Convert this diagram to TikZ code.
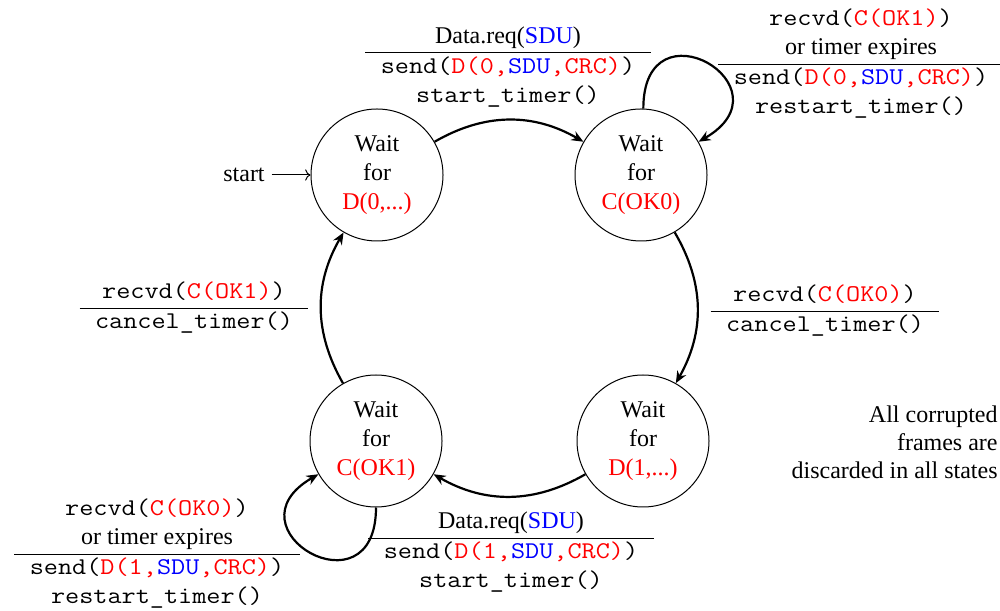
\documentclass[tikz,border=0pt]{standalone}
\usepackage{fontspec}
\setmainfont{Liberation Serif}
\setmonofont{Latin Modern Mono}[FakeStretch=1.143]
\usetikzlibrary{arrows.meta}
\newcommand\myred[1]{\textcolor{red}{#1}}
\newcommand\myblue[1]{\textcolor{blue}{#1}}
\setlength{\tabcolsep}{7.7pt}
\begin{document}
\begin{tikzpicture}[x=0.5pt,y=0.5pt,
  every node/.style={font=\fontsize{12}{14.5}\selectfont},
  state/.style={circle,draw,line width=0.5pt,minimum size=66pt,inner sep=0pt,align=center},
  edge/.style={line width=1.1pt,-{Stealth[length=6pt,width=5pt,inset=2pt]}},
  lbl/.style={inner sep=0pt}]
\useasboundingbox (0,0) rectangle (1000,610);
% states
\node[state] (A) at (377,435) {Wait\\for\\\myred{D(0,...)}};
\node[state] (B) at (641,435) {Wait\\for\\\myred{C(OK0)}};
\node[state] (C) at (376,169) {Wait\\for\\\myred{C(OK1)}};
\node[state] (D) at (643,169) {Wait\\for\\\myred{D(1,...)}};
% start
\node (start) at (244,435) {start};
\draw[->,line width=0.5pt] (start) -- (A);
% edges
\draw[edge] (A) to[bend left=30] (B);
\draw[edge] (B) to[bend left=30] (D);
\draw[edge] (D) to[bend left=30] (C);
\draw[edge] (C) to[bend left=30] (A);
\draw[edge] (B.88) .. controls +(90:110) and +(30:110) .. (B.30);
\draw[edge] (C.270) .. controls +(270:110) and +(210:110) .. (C.210);
% labels
\node[lbl] (lab) at (508,543) {\begin{tabular}{c}Data.req(\myblue{SDU})\\\hline
\texttt{send(\myred{D(0,}\myblue{SDU}\myred{,CRC)})}\\
\texttt{start\_timer()}\end{tabular}};
\node[lbl] (lbb) at (861,546) {\begin{tabular}{c}\texttt{recvd(\myred{C(OK1)})}\\
or timer expires\\\hline
\texttt{send(\myred{D(0,}\myblue{SDU}\myred{,CRC)})}\\
\texttt{restart\_timer()}\end{tabular}};
\node[lbl] (lbd) at (825,299) {\begin{tabular}{c}\texttt{recvd(\myred{C(OK0)})}\\\hline
\texttt{cancel\_timer()}\end{tabular}};
\node[lbl] (ldc) at (511,57.5) {\begin{tabular}{c}Data.req(\myblue{SDU})\\\hline
\texttt{send(\myred{D(1,}\myblue{SDU}\myred{,CRC)})}\\
\texttt{start\_timer()}\end{tabular}};
\node[lbl] (lca) at (194,302) {\begin{tabular}{c}\texttt{recvd(\myred{C(OK1)})}\\\hline
\texttt{cancel\_timer()}\end{tabular}};
\node[lbl] (lcc) at (157,56) {\begin{tabular}{c}\texttt{recvd(\myred{C(OK0)})}\\
or timer expires\\\hline
\texttt{send(\myred{D(1,}\myblue{SDU}\myred{,CRC)})}\\
\texttt{restart\_timer()}\end{tabular}};
% note
\node[anchor=east,align=right,inner sep=0pt,font=\fontsize{12}{14}\selectfont] (note) at (998,168)
  {All corrupted\\frames are\\discarded in all states};
\end{tikzpicture}
\end{document}
